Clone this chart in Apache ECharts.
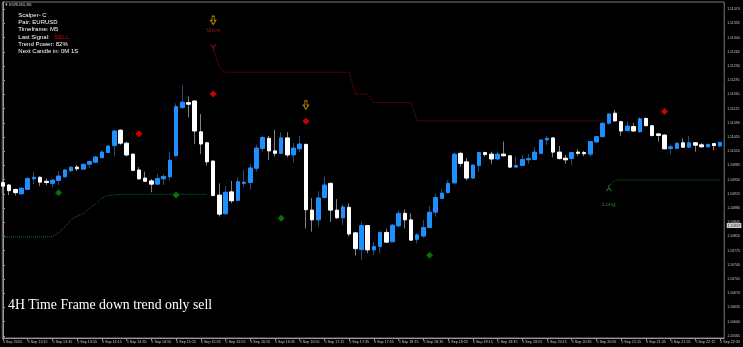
<!DOCTYPE html>
<html><head><meta charset="utf-8">
<script src="https://cdn.jsdelivr.net/npm/echarts@6/dist/echarts.min.js"></script>
<style>html,body{margin:0;padding:0;background:#000;}#c{width:743px;height:347px;}</style>
</head><body><div id="c"></div>
<script>
// ---- DATA (EURUSD M5, 5 Sep 2024, bars from 12:55 to 22:35) ----
const opens = [1.10943,1.10937,1.10926,1.10915,1.10926,1.10952,1.10956,1.10946,1.10941,1.10948,
1.10957,1.10972,1.10981,1.10976,1.10988,1.10993,1.11004,1.11017,1.11034,1.11072,
1.11040,1.11013,1.10974,1.10954,1.10947,1.10939,1.10952,1.10957,1.11009,1.11128,
1.11140,1.11144,1.11068,1.11041,1.10996,1.10912,1.10866,1.10920,1.10899,1.10941,
1.10943,1.10978,1.11027,1.11052,1.11021,1.11015,1.11053,1.11011,1.11026,1.11037,
1.10875,1.10851,1.10906,1.10941,1.10875,1.10856,1.10882,1.10819,1.10778,1.10837,
1.10777,1.10785,1.10820,1.10797,1.10836,1.10867,1.10851,1.10803,1.10811,1.10832,
1.10870,1.10904,1.10918,1.10942,1.11015,1.10994,1.10954,1.10985,1.11017,1.11013,
1.11001,1.11013,1.11009,1.10981,1.10985,1.10999,1.11000,1.11015,1.11048,1.11053,
1.11018,1.11003,1.11002,1.11018,1.11017,1.11013,1.11043,1.11056,1.11089,1.11114,
1.11093,1.11071,1.11081,1.11068,1.11101,1.11083,1.11063,1.11060,1.11027,1.11027,
1.11041,1.11030,1.11041,1.11036,1.11031,1.11039,1.11033];
const highs = [1.10951,1.10939,1.10928,1.10931,1.10956,1.10970,1.10958,1.10953,1.10952,1.10971,
1.10976,1.10983,1.10986,1.10990,1.10997,1.11008,1.11023,1.11035,1.11072,1.11074,
1.11044,1.11015,1.10981,1.10970,1.10952,1.10964,1.10964,1.11019,1.11138,1.11183,
1.11155,1.11146,1.11112,1.11043,1.10997,1.10941,1.10934,1.10947,1.10956,1.10974,
1.10989,1.11037,1.11058,1.11058,1.11072,1.11067,1.11067,1.11040,1.11058,1.11039,
1.10905,1.10922,1.10957,1.10943,1.10902,1.10889,1.10892,1.10821,1.10846,1.10838,
1.10797,1.10822,1.10829,1.10840,1.10874,1.10877,1.10867,1.10818,1.10851,1.10885,
1.10916,1.10927,1.10949,1.11017,1.11019,1.11003,1.10988,1.11019,1.11019,1.11019,
1.11019,1.11044,1.11011,1.11007,1.11011,1.11013,1.11031,1.11050,1.11058,1.11055,
1.11033,1.11011,1.11018,1.11025,1.11021,1.11045,1.11058,1.11093,1.11114,1.11122,
1.11095,1.11093,1.11090,1.11104,1.11103,1.11085,1.11064,1.11062,1.11036,1.11041,
1.11052,1.11058,1.11043,1.11040,1.11039,1.11040,1.11044];
const lows = [1.10916,1.10912,1.10911,1.10914,1.10925,1.10939,1.10934,1.10937,1.10931,1.10937,
1.10956,1.10970,1.10972,1.10974,1.10978,1.10991,1.11003,1.11015,1.11007,1.11036,
1.11007,1.10971,1.10950,1.10944,1.10919,1.10938,1.10937,1.10948,1.11007,1.11124,
1.11104,1.11038,1.11013,1.10985,1.10909,1.10859,1.10864,1.10892,1.10898,1.10933,
1.10925,1.10970,1.11019,1.10999,1.11007,1.11013,1.11005,1.10993,1.11019,1.10830,
1.10822,1.10834,1.10904,1.10846,1.10854,1.10838,1.10810,1.10763,1.10752,1.10769,
1.10764,1.10769,1.10794,1.10796,1.10834,1.10830,1.10800,1.10793,1.10807,1.10830,
1.10859,1.10902,1.10916,1.10940,1.10982,1.10948,1.10952,1.10970,1.11007,1.10989,
1.10999,1.11007,1.10979,1.10978,1.10984,1.10989,1.10999,1.11013,1.11036,1.11005,
1.11000,1.10989,1.10986,1.11008,1.11008,1.11007,1.11041,1.11055,1.11087,1.11093,
1.11058,1.11069,1.11068,1.11067,1.11082,1.11056,1.11044,1.11025,1.11013,1.11026,
1.11028,1.11028,1.11019,1.11029,1.11029,1.11023,1.11031];
const closes = [1.10934,1.10923,1.10918,1.10929,1.10953,1.10956,1.10944,1.10943,1.10949,1.10959,
1.10974,1.10981,1.10977,1.10988,1.10995,1.11006,1.11018,1.11033,1.11070,1.11040,
1.11011,1.10973,1.10952,1.10946,1.10939,1.10953,1.10958,1.10998,1.11130,1.11141,
1.11136,1.11070,1.11038,1.10994,1.10911,1.10865,1.10919,1.10898,1.10945,1.10944,
1.10979,1.11028,1.11054,1.11021,1.11015,1.11053,1.11011,1.11028,1.11038,1.10876,
1.10851,1.10905,1.10937,1.10875,1.10856,1.10883,1.10816,1.10780,1.10837,1.10777,
1.10785,1.10820,1.10796,1.10838,1.10867,1.10851,1.10801,1.10814,1.10832,1.10870,
1.10906,1.10917,1.10941,1.11013,1.10990,1.10954,1.10986,1.11017,1.11012,1.11001,
1.11013,1.11009,1.10981,1.10985,1.11000,1.11002,1.11018,1.11048,1.11052,1.11018,
1.11002,1.10999,1.11017,1.11015,1.11014,1.11044,1.11056,1.11089,1.11112,1.11095,
1.11070,1.11082,1.11070,1.11100,1.11083,1.11059,1.11059,1.11026,1.11031,1.11040,
1.11030,1.11041,1.11035,1.11031,1.11037,1.11034,1.11042];

// trailing stop lines (dotted)
const shortStopStart = 34;
const shortStop = [1.11272,1.11228,1.11215,1.11215,1.11215,1.11215,1.11215,1.11215,1.11215,1.11215,
1.11215,1.11215,1.11215,1.11215,1.11215,1.11215,1.11215,1.11215,1.11215,1.11215,
1.11215,1.11215,1.11215,1.11161,1.11161,1.11161,1.11140,1.11140,1.11140,1.11140,
1.11140,1.11140,1.11140,1.11095,1.11095,1.11095,1.11095,1.11095,1.11095,1.11095,
1.11095,1.11095,1.11095,1.11095,1.11095,1.11095,1.11095,1.11095,1.11095,1.11095,
1.11095,1.11095,1.11095,1.11095,1.11095,1.11095,1.11095,1.11095,1.11095,1.11095,
1.11095,1.11095,1.11095,1.11095];
const longStopAStart = 0;
const longStopA = [1.10809,1.10809,1.10809,1.10809,1.10809,1.10809,1.10809,1.10809,1.10810,1.10819,
1.10833,1.10851,1.10860,1.10867,1.10879,1.10891,1.10905,1.10911,1.10912,1.10914,
1.10914,1.10914,1.10914,1.10914,1.10914,1.10914,1.10914,1.10914,1.10914,1.10914,
1.10914,1.10914,1.10914,1.10914];
const longStopBStart = 98;
const longStopB = [1.10934,1.10949,1.10949,1.10949,1.10949,1.10949,1.10949,1.10949,1.10949,1.10949,
1.10949,1.10949,1.10949,1.10949,1.10949,1.10949,1.10949,1.10949,1.10949];

// signal markers
const buyBars = [9, 28, 45, 69];
const buyLevels = [1.10918, 1.10912, 1.10855, 1.10764];
const sellBars = [22, 34, 49, 107];
const sellLevels = [1.11063, 1.11161, 1.11094, 1.11118];
const arrowBars = [34, 49];
const arrowLevels = [1.11343, 1.11134];
const shortTag = [34, 1.11317];
const shortHead = [34, 1.11276];
const longTag = [98, 1.10889];
const longHead = [98, 1.10929];
const markedPrice = 1.10837;

// axis ticks
const tickBars = [0,4,8,12,16,20,24,28,32,36,40,44,48,52,56,60,64,68,72,76,80,84,88,92,96,100,104,108,112,116];
const tickLabels = ['5 Sep 2024','5 Sep 13:15','5 Sep 13:35','5 Sep 13:55','5 Sep 14:15','5 Sep 14:35',
'5 Sep 14:55','5 Sep 15:15','5 Sep 15:35','5 Sep 15:55','5 Sep 16:15','5 Sep 16:35','5 Sep 16:55',
'5 Sep 17:15','5 Sep 17:35','5 Sep 17:55','5 Sep 18:15','5 Sep 18:35','5 Sep 18:55','5 Sep 19:15',
'5 Sep 19:35','5 Sep 19:55','5 Sep 20:15','5 Sep 20:35','5 Sep 20:55','5 Sep 21:15','5 Sep 21:35',
'5 Sep 21:55','5 Sep 22:15','5 Sep 22:35'];
const yTicks = [1.10565,1.10600,1.10635,1.10670,1.10705,1.10740,1.10775,1.10810,1.10845,1.10880,
1.10915,1.10950,1.10985,1.11020,1.11055,1.11090,1.11125,1.11160,1.11195,1.11230,1.11265,1.11300,
1.11335,1.11370];

const infoLines = ['Scalper- C','Pair: EURUSD','Timeframe: M5','Last Signal:','Trend Power: 82%','Next Candle in: 0M 1S'];

// ---- BUILD ----
const X_MIN = -0.113, X_MAX = 116.661;
const wickData = opens.map((o, i) => [i, o, closes[i], lows[i], highs[i]]);
const bodyData = opens.map((o, i) => [i, o, closes[i], Math.min(o, closes[i]), Math.max(o, closes[i])]);
const seg = (arr, start) => arr.map((v, k) => [start + k, v]);
const pts = (bars, lv) => bars.map((b, k) => [b, lv[k]]);
const FONT = 'Liberation Sans';

const chart = echarts.init(document.getElementById('c'), null, {renderer: 'canvas'});
const graphic = infoLines.map((t, k) => ({
  type: 'text', x: 18.3, y: 15 + k * 7.35,
  style: {text: t, fill: '#ffffff', fontSize: 6, fontFamily: FONT, verticalAlign: 'middle'}
}));
graphic.push({type: 'text', x: 54.3, y: 15 + 3 * 7.35,
  style: {text: 'SELL', fill: '#d40000', fontSize: 6, fontFamily: FONT, verticalAlign: 'middle'}});
graphic.push({type: 'text', x: 4.5, y: 4.6,
  style: {text: '\u25BC EURUSD,M5', fill: '#d0d0d0', fontSize: 3.8, fontFamily: FONT, verticalAlign: 'middle'}});
graphic.push({type: 'text', x: 8, y: 305.5,
  style: {text: '4H Time Frame down trend only sell', fill: '#ffffff', fontSize: 13.8,
    fontFamily: 'Liberation Serif', verticalAlign: 'middle'}});

chart.setOption({
  backgroundColor: '#000000',
  animation: false,
  grid: {left: 1, right: 18, top: 2, bottom: 9, show: true, borderColor: '#7a7a7a', borderWidth: 1},
  xAxis: {
    type: 'value', min: X_MIN, max: X_MAX,
    axisLine: {show: true, lineStyle: {color: '#9a9a9a', width: 1}},
    axisTick: {show: true, length: 2.5, lineStyle: {color: '#9a9a9a'}, customValues: tickBars},
    axisLabel: {show: true, customValues: tickBars, fontSize: 3.7, fontFamily: FONT, color: '#c8c8c8',
      align: 'left', margin: 1.5,
      formatter: v => tickLabels[tickBars.indexOf(Math.round(v))] || ''},
    splitLine: {show: false}
  },
  yAxis: {
    type: 'value', position: 'right', min: 1.105598, max: 1.11388,
    axisLine: {show: true, lineStyle: {color: '#9a9a9a', width: 1}},
    axisTick: {show: true, length: 2, lineStyle: {color: '#9a9a9a'}, customValues: yTicks},
    axisLabel: {show: true, customValues: yTicks, fontSize: 3.5, fontFamily: FONT, color: '#c8c8c8', margin: 3,
      formatter: v => v.toFixed(5)},
    splitLine: {show: false}
  },
  graphic: graphic,
  series: [
    {type: 'candlestick', name: 'wick', data: wickData, barWidth: 1,
      dimensions: ['bar','open','close','lowest','highest'],
      encode: {x: 'bar', y: ['open','close','lowest','highest']},
      itemStyle: {color: '#2a4c74', color0: '#808080', borderColor: '#2a4c74', borderColor0: '#808080', borderWidth: 1}},
    {type: 'candlestick', name: 'body', data: bodyData, barWidth: 4,
      dimensions: ['bar','open','close','lowest','highest'],
      encode: {x: 'bar', y: ['open','close','lowest','highest']},
      itemStyle: {color: '#1e8fff', color0: '#ffffff', borderColor: '#1e8fff', borderColor0: '#ffffff', borderWidth: 1}},
    {type: 'line', data: seg(shortStop, shortStopStart), symbol: 'none',
      lineStyle: {color: '#8e0a0a', width: 1, type: 'dotted'}},
    {type: 'line', data: seg(longStopA, longStopAStart), symbol: 'none',
      lineStyle: {color: '#1b6e1b', width: 1, type: 'dotted'}},
    {type: 'line', data: seg(longStopB, longStopBStart), symbol: 'none',
      lineStyle: {color: '#1b6e1b', width: 1, type: 'dotted'}},
    {type: 'scatter', data: pts(buyBars, buyLevels), symbol: 'diamond', symbolSize: 7,
      itemStyle: {color: '#0a8a0a'}},
    {type: 'scatter', data: pts(sellBars, sellLevels), symbol: 'diamond', symbolSize: 7,
      itemStyle: {color: '#ff0000'}},
    {type: 'scatter', data: [[X_MAX, markedPrice]], symbolSize: 0, clip: false,
      label: {show: true, position: 'right', distance: 2.5, formatter: () => markedPrice.toFixed(5),
        backgroundColor: '#ffffff', color: '#000000', fontSize: 3.5, fontFamily: FONT, padding: [0.5, 1]}},
    {type: 'scatter', data: pts(arrowBars, arrowLevels),
      symbol: 'path://M3,0 L7,0 L7,6 L10,6 L5,12 L0,6 L3,6 Z', symbolSize: [5.5, 8.5],
      itemStyle: {color: 'rgba(0,0,0,0)', borderColor: '#d9a400', borderWidth: 1}},
    {type: 'scatter', data: [shortHead],
      symbol: 'path://M0,0 L5,6 L10,0 M5,6 L5,11', symbolSize: [5, 6],
      itemStyle: {color: 'rgba(0,0,0,0)', borderColor: '#c01010', borderWidth: 1}},
    {type: 'scatter', data: [longHead],
      symbol: 'path://M5,0 L5,5 M0,11 L5,5 L10,11', symbolSize: [5, 6],
      itemStyle: {color: 'rgba(0,0,0,0)', borderColor: '#3a9a3a', borderWidth: 1}},
    {type: 'scatter', data: [shortTag], symbolSize: 0,
      label: {show: true, position: 'inside', formatter: 'Short', color: '#c41a1a', fontSize: 6, fontFamily: FONT}},
    {type: 'scatter', data: [longTag], symbolSize: 0,
      label: {show: true, position: 'inside', formatter: 'Long', color: '#3a9a3a', fontSize: 6, fontFamily: FONT}}
  ]
});
</script></body></html>
